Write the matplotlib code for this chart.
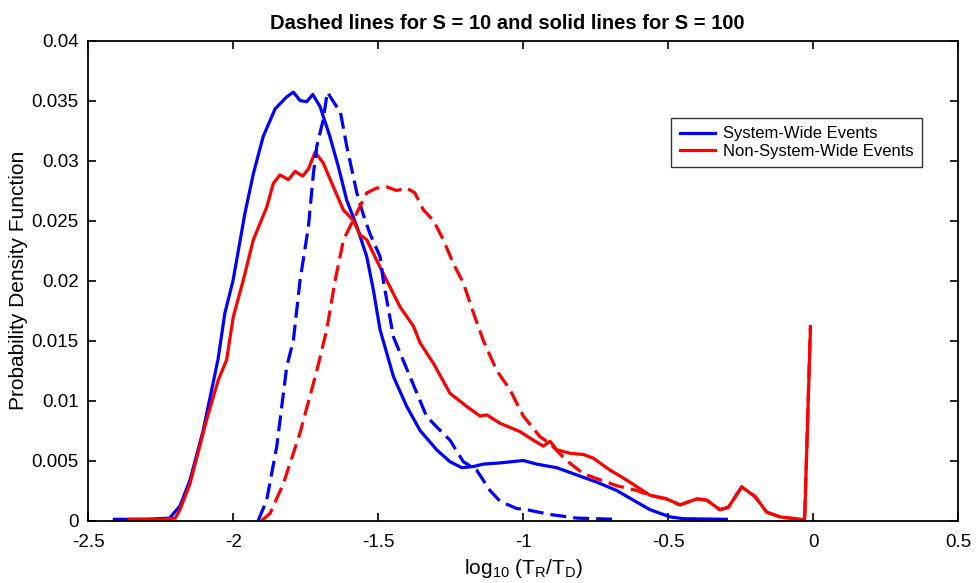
import matplotlib
matplotlib.use("Agg")
import matplotlib.pyplot as plt

plt.rcParams['font.family'] = ['Liberation Sans', 'DejaVu Sans']
plt.rcParams['mathtext.default'] = 'regular'
plt.rcParams['axes.unicode_minus'] = False

# S = 100, system-wide (solid blue)
sw100_x = [-2.41, -2.3, -2.22, -2.184, -2.149, -2.104, -2.053, -2.029, -2.001, -1.96, -1.931, -1.897,
           -1.856, -1.816, -1.793, -1.77, -1.747, -1.726, -1.701, -1.667, -1.638, -1.609, -1.574,
           -1.54, -1.517, -1.494, -1.448, -1.402, -1.356, -1.299, -1.253, -1.212, -1.172, -1.138,
           -1.08, -1.0, -0.954, -0.885, -0.816, -0.747, -0.678, -0.621, -0.563, -0.494, -0.448, -0.3]
sw100_y = [0.0001, 0.0001, 0.0002, 0.0012, 0.0034, 0.0075, 0.0134, 0.0173, 0.0200, 0.0256, 0.0289, 0.0320,
           0.0343, 0.0353, 0.0357, 0.0350, 0.0349, 0.0355, 0.0345, 0.0320, 0.0295, 0.0267, 0.0245,
           0.0220, 0.0192, 0.0159, 0.0120, 0.0095, 0.0075, 0.0059, 0.0049, 0.0044, 0.0045, 0.0047,
           0.0048, 0.0050, 0.0047, 0.0044, 0.0038, 0.0032, 0.0025, 0.0017, 0.0009, 0.0003, 0.00015, 0.0001]

# S = 100, non-system-wide (solid red)
nsw100_x = [-2.36, -2.25, -2.2, -2.184, -2.149, -2.092, -2.052, -2.023, -2.0, -1.966, -1.931, -1.885,
            -1.862, -1.839, -1.81, -1.787, -1.761, -1.741, -1.718, -1.69, -1.655, -1.621, -1.586,
            -1.563, -1.54, -1.506, -1.471, -1.425, -1.379, -1.356, -1.31, -1.253, -1.195, -1.149,
            -1.126, -1.08, -1.011, -0.966, -0.931, -0.908, -0.885, -0.839, -0.793, -0.759, -0.736,
            -0.701, -0.666, -0.62, -0.563, -0.506, -0.46, -0.402, -0.368, -0.322, -0.293, -0.247,
            -0.201, -0.161, -0.115, -0.046, -0.03, -0.01]
nsw100_y = [0.0001, 0.0001, 0.0002, 0.0009, 0.0031, 0.0084, 0.0117, 0.0134, 0.0170, 0.0200, 0.0234, 0.0261,
            0.0281, 0.0288, 0.0284, 0.0291, 0.0287, 0.0293, 0.0307, 0.0298, 0.0278, 0.0259, 0.0250,
            0.0238, 0.0234, 0.0217, 0.0200, 0.0178, 0.0162, 0.0148, 0.0131, 0.0106, 0.0095, 0.0087,
            0.0088, 0.0081, 0.0074, 0.0067, 0.0062, 0.0066, 0.0059, 0.0056, 0.0055, 0.0052, 0.0048,
            0.0042, 0.0037, 0.0030, 0.0021, 0.0018, 0.0013, 0.0018, 0.0017, 0.0009, 0.0011, 0.0028,
            0.0020, 0.0007, 0.0003, 0.0001, 0.0001, 0.0160]

# S = 10, system-wide (dashed blue)
sw10_x = [-1.914, -1.885, -1.85, -1.816, -1.793, -1.77, -1.741, -1.724, -1.712, -1.69, -1.676, -1.644,
          -1.632, -1.609, -1.574, -1.552, -1.529, -1.494, -1.483, -1.448, -1.391, -1.334, -1.299,
          -1.253, -1.207, -1.161, -1.115, -1.08, -1.023, -0.988, -0.908, -0.816, -0.678]
sw10_y = [0.0, 0.0017, 0.0062, 0.0128, 0.0150, 0.0200, 0.0245, 0.0289, 0.0312, 0.0334, 0.0357, 0.0345,
          0.0342, 0.0312, 0.0273, 0.0255, 0.0239, 0.0220, 0.0200, 0.0153, 0.0120, 0.0087, 0.0078,
          0.0067, 0.0049, 0.0042, 0.0025, 0.0016, 0.0010, 0.0009, 0.0005, 0.0002, 0.0001]

# S = 10, non-system-wide (dashed red)
nsw10_x = [-1.902, -1.873, -1.827, -1.77, -1.712, -1.678, -1.649, -1.62, -1.575, -1.54, -1.506, -1.471,
           -1.437, -1.402, -1.374, -1.345, -1.31, -1.276, -1.241, -1.207, -1.172, -1.138, -1.092,
           -1.046, -1.0, -0.943, -0.908, -0.851, -0.793, -0.736, -0.678, -0.609, -0.563, -0.506,
           -0.46, -0.402, -0.368, -0.322, -0.293, -0.247, -0.201, -0.161, -0.115, -0.046, -0.03, -0.01]
nsw10_y = [0.0, 0.0006, 0.0031, 0.0073, 0.0125, 0.0159, 0.0200, 0.0234, 0.0256, 0.0273, 0.0277, 0.0278,
           0.0275, 0.0277, 0.0273, 0.0259, 0.0250, 0.0234, 0.0214, 0.0198, 0.0173, 0.0150, 0.0125,
           0.0109, 0.0087, 0.0070, 0.0064, 0.0050, 0.0039, 0.0034, 0.0029, 0.0025, 0.0021, 0.0018,
           0.0013, 0.0018, 0.0017, 0.0009, 0.0011, 0.0028, 0.0020, 0.0007, 0.0003, 0.0001, 0.0001, 0.0163]

x_ticks = [-2.5, -2, -1.5, -1, -0.5, 0, 0.5]
x_labels = ['-2.5', '-2', '-1.5', '-1', '-0.5', '0', '0.5']
y_ticks = [0, 0.005, 0.01, 0.015, 0.02, 0.025, 0.03, 0.035, 0.04]
y_labels = ['0', '0.005', '0.01', '0.015', '0.02', '0.025', '0.03', '0.035', '0.04']

fig = plt.figure(figsize=(9.76, 5.83), dpi=100)
ax = fig.add_axes([0.0905, 0.1072, 0.8914, 0.8233])

lw = 2.3
dash = (0, (5, 2.2))
ax.plot(sw100_x, sw100_y, color='#0000ff', lw=lw, label='System-Wide Events')
ax.plot(nsw100_x, nsw100_y, color='#ff0000', lw=lw, label='Non-System-Wide Events')
ax.plot(sw10_x, sw10_y, color='#0000ff', lw=lw, ls=dash)
ax.plot(nsw10_x, nsw10_y, color='#ff0000', lw=lw, ls=dash)

ax.set_xlim(-2.5, 0.5)
ax.set_ylim(0, 0.04)
ax.set_xticks(x_ticks)
ax.set_xticklabels(x_labels)
ax.set_yticks(y_ticks)
ax.set_yticklabels(y_labels)
ax.tick_params(direction='in', top=True, right=True, length=6, width=1.2, labelsize=13.5)
ax.tick_params(axis='x', pad=10)
ax.tick_params(axis='y', pad=7)
for s in ax.spines.values():
    s.set_linewidth(1.3)

ax.set_title('Dashed lines for S = 10 and solid lines for S = 100', fontsize=14.5, fontweight='bold',
             pad=8, x=0.482)
ax.set_xlabel('log$_{10}$ (T$_R$/T$_D$)', fontsize=15, labelpad=4)
ax.set_ylabel('Probability Density Function', fontsize=15)
ax.yaxis.set_label_coords(-0.0695, 0.5)

leg = ax.legend(loc='upper right', bbox_to_anchor=(0.9583, 0.8385), fontsize=12, frameon=True,
                fancybox=False, edgecolor='black', handlelength=2.1, borderpad=0.5,
                labelspacing=0.15, handletextpad=0.5, borderaxespad=0)
leg.get_frame().set_linewidth(1.0)

fig.savefig('out.png', dpi=100)
